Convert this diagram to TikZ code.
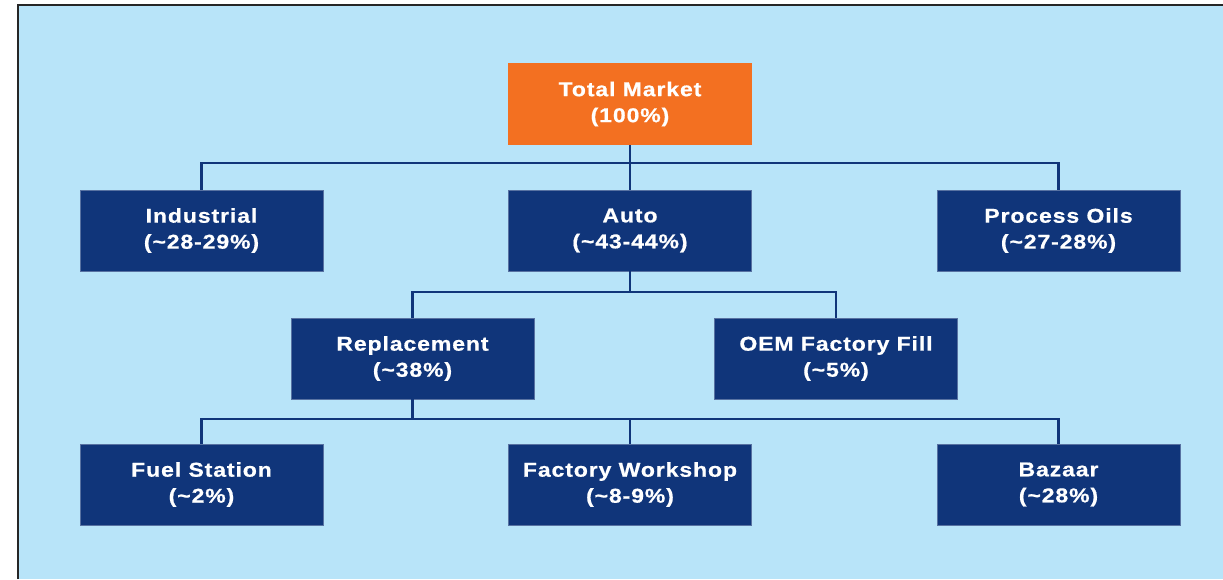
\documentclass[tikz,border=0pt]{standalone}
\usepackage{fontspec}
\setmainfont{Liberation Sans}[FakeStretch=1.15, LetterSpace=4.5, BoldFeatures={FakeBold=0.7}]
\definecolor{bgblue}{HTML}{B8E4F9}
\definecolor{navy}{HTML}{10357A}
\definecolor{orng}{HTML}{F37021}
\begin{document}
\begin{tikzpicture}[x=1pt,y=1pt,
  box/.style={fill=navy, draw=navy!70!white, line width=0.6pt, minimum width=243pt, minimum height=81pt, inner sep=0pt, align=center, text=white, font=\fontsize{20}{26}\selectfont\bfseries},
  topbox/.style={box, fill=orng, draw=orng},
  conn/.style={draw=navy, line width=2.8pt}]
\useasboundingbox (0,0) rectangle (1223,-579);
\fill[white] (0,0) rectangle (1223,-579);
\fill[bgblue] (18,-5) rectangle (1223,-579);
\draw[black!85, line width=2pt] (18,-579) -- (18,-5) -- (1223,-5);
% nodes
\node[topbox] (tm) at (630,-104) {Total Market\\(100\%)};
\node[box] (ind) at (201.5,-230.5) {Industrial\\(\textasciitilde28-29\%)};
\node[box] (auto) at (630,-230.5) {Auto\\(\textasciitilde43-44\%)};
\node[box] (po) at (1058.5,-230.5) {Process Oils\\(\textasciitilde27-28\%)};
\node[box] (rep) at (412.5,-358.5) {Replacement\\(\textasciitilde38\%)};
\node[box] (oem) at (836,-358.5) {OEM Factory Fill\\(\textasciitilde5\%)};
\node[box] (fs) at (201.5,-484.5) {Fuel Station\\(\textasciitilde2\%)};
\node[box] (fw) at (630,-484.5) {Factory Workshop\\(\textasciitilde8-9\%)};
\node[box] (bz) at (1058.5,-484.5) {Bazaar\\(\textasciitilde28\%)};
% junctions
\coordinate (j1) at (630,-163);
\coordinate (j2) at (630,-292);
\coordinate (j3) at (412.5,-419);
% connectors
\draw[conn] (tm.south) -- (auto.north);
\draw[conn] (ind.north) |- (j1) -| (po.north);
\draw[conn] (auto.south) -- (j2);
\draw[conn] (rep.north) |- (j2) -| (oem.north);
\draw[conn] (rep.south) -- (j3);
\draw[conn] (fs.north) |- (j3) -| (bz.north);
\draw[conn] (fw.north) -- (fw.north |- j3);
\end{tikzpicture}
\end{document}
